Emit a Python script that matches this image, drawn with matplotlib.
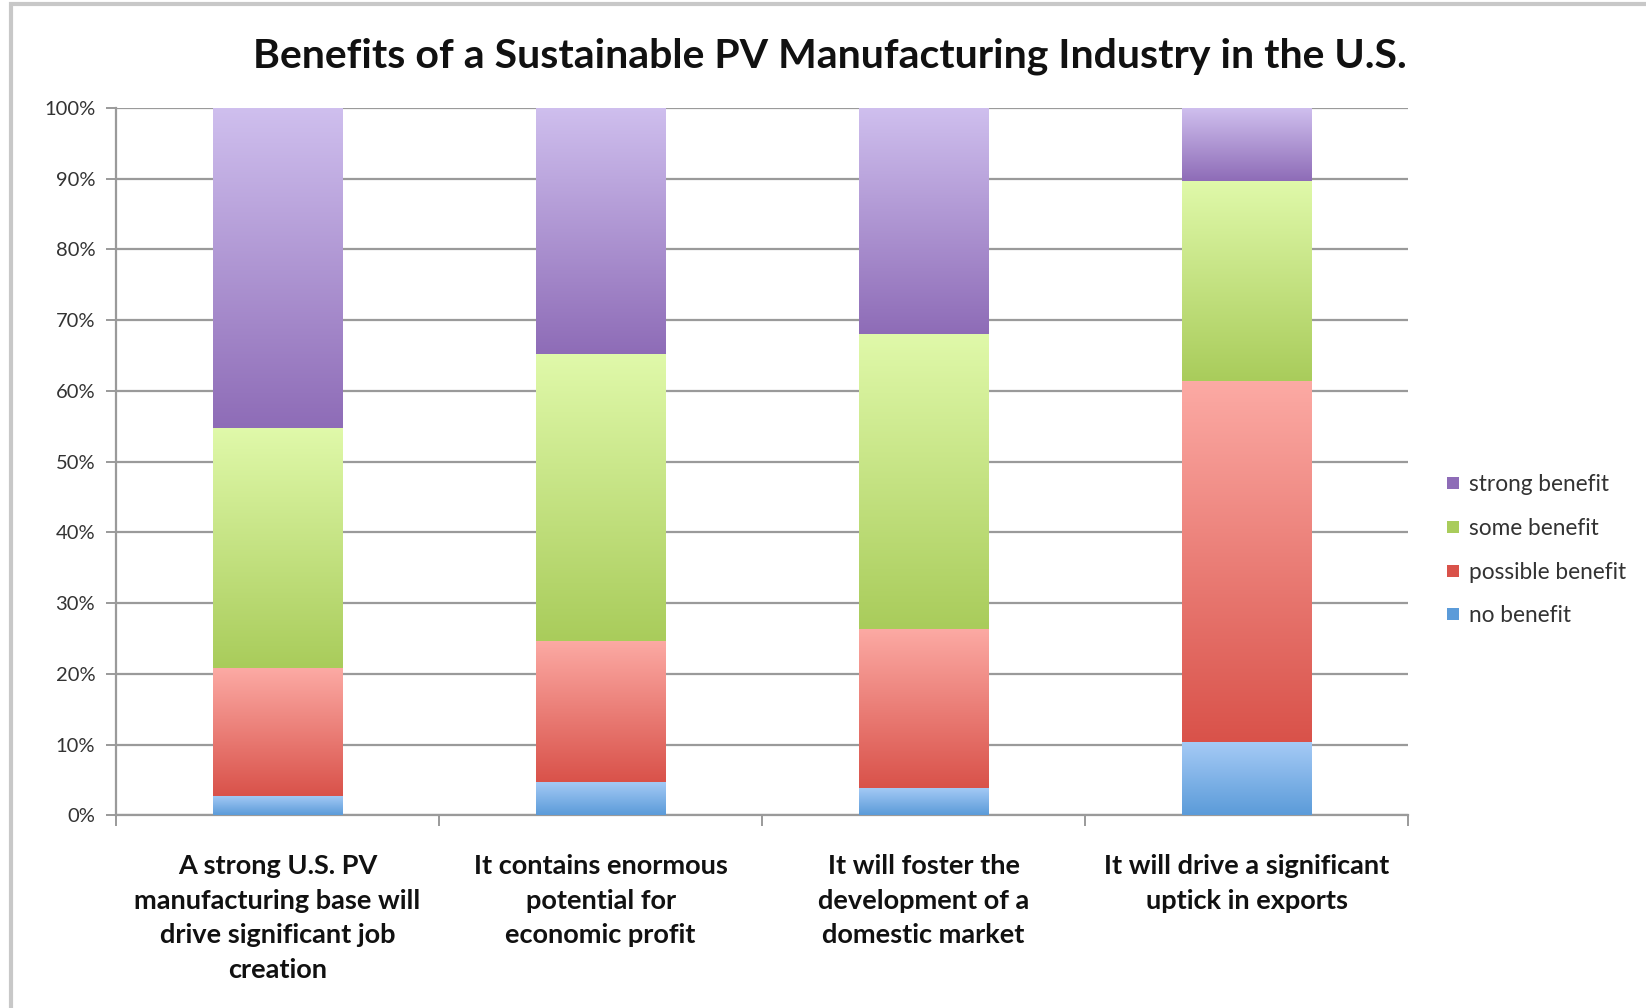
import matplotlib.pyplot as plt
import numpy as np
from matplotlib.colors import LinearSegmentedColormap
from matplotlib.lines import Line2D
from matplotlib.patches import Rectangle

categories = ['A strong U.S. PV\nmanufacturing base will\ndrive significant job\ncreation',
              'It contains enormous\npotential for\neconomic profit',
              'It will foster the\ndevelopment of a\ndomestic market',
              'It will drive a significant\nuptick in exports']
series = ['no benefit', 'possible benefit', 'some benefit', 'strong benefit']
no_benefit = [2.8, 4.7, 3.9, 10.4]
possible_benefit = [18.0, 20.0, 22.5, 51.0]
some_benefit = [34.0, 40.5, 41.7, 28.3]
strong_benefit = [45.2, 34.8, 31.9, 10.3]
values = [no_benefit, possible_benefit, some_benefit, strong_benefit]
yticks = [0, 10, 20, 30, 40, 50, 60, 70, 80, 90, 100]

# (bottom colour, top colour) for the Excel-like gradients
grads = [('#5b9bd9', '#a6cbf6'),
         ('#d9524a', '#fcaaa4'),
         ('#a9cc5b', '#e0f9aa'),
         ('#8e6cb7', '#cfbfee')]

plt.rcParams['font.family'] = ['Lato', 'DejaVu Sans']

fig = plt.figure(figsize=(16.46, 10.08), dpi=100)
ax = fig.add_axes([0.0705, 0.191, 0.785, 0.702])

x = np.arange(len(categories)) + 0.5
width = 0.40
grad = np.linspace(0, 1, 256).reshape(-1, 1)
bottom = np.zeros(len(categories))
for vals, (c0, c1) in zip(values, grads):
    bars = ax.bar(x, vals, width, bottom=bottom, color=c1, linewidth=0, zorder=2)
    cmap = LinearSegmentedColormap.from_list('g', [c0, c1])
    for b in bars:
        x0, y0 = b.get_x(), b.get_y()
        im = ax.imshow(grad, cmap=cmap, origin='lower', aspect='auto',
                       extent=(x0, x0 + b.get_width(), y0, y0 + b.get_height()),
                       zorder=3)
        im.set_clip_path(b)
    bottom += np.array(vals)

ax.set_xlim(0, 4)
ax.set_ylim(0, 100)
ax.set_yticks(yticks)
ax.set_yticklabels(['%d%%' % t for t in yticks], fontsize=14.5, color='#333333')
ax.yaxis.grid(True, color='#9a9a9a', linewidth=1.6, zorder=0)
ax.set_axisbelow(True)
ax.tick_params(axis='y', length=7, width=1.4, color='#9a9a9a', pad=8)

ax.set_xticks([0, 1, 2, 3, 4])
ax.set_xticklabels([])
ax.set_xticks(x, minor=True)
ax.set_xticklabels(categories, minor=True, fontsize=19.5, fontweight='bold',
                   linespacing=1.52, color='#111111')
ax.tick_params(axis='x', which='major', length=8, width=1.4, color='#9a9a9a', direction='out')
ax.tick_params(axis='x', which='minor', length=0, pad=28)

for s in ['top', 'right']:
    ax.spines[s].set_visible(False)
for s in ['left', 'bottom']:
    ax.spines[s].set_color('#9a9a9a')
    ax.spines[s].set_linewidth(1.6)

fig.text(0.504, 0.944, 'Benefits of a Sustainable PV Manufacturing Industry in the U.S.',
         ha='center', va='center', fontsize=29.5, fontweight='bold', color='#111111')

handles = [Line2D([], [], marker='s', linestyle='none', markersize=9,
                  markerfacecolor=c0, markeredgewidth=0)
           for (c0, c1) in grads]
leg = fig.legend(handles[::-1], series[::-1], loc='center left',
                 bbox_to_anchor=(0.865, 0.454), frameon=False, fontsize=16.3,
                 handletextpad=0.3, labelspacing=1.0, handlelength=0.8,
                 labelcolor='#333333')

# outer chart frame (top and left edges visible)
fig.add_artist(Rectangle((0.0065, -0.01), 1.1, 1.006, transform=fig.transFigure,
                         fill=False, edgecolor='#c8c8c8', linewidth=3))

fig.savefig('out.png', dpi=100)
